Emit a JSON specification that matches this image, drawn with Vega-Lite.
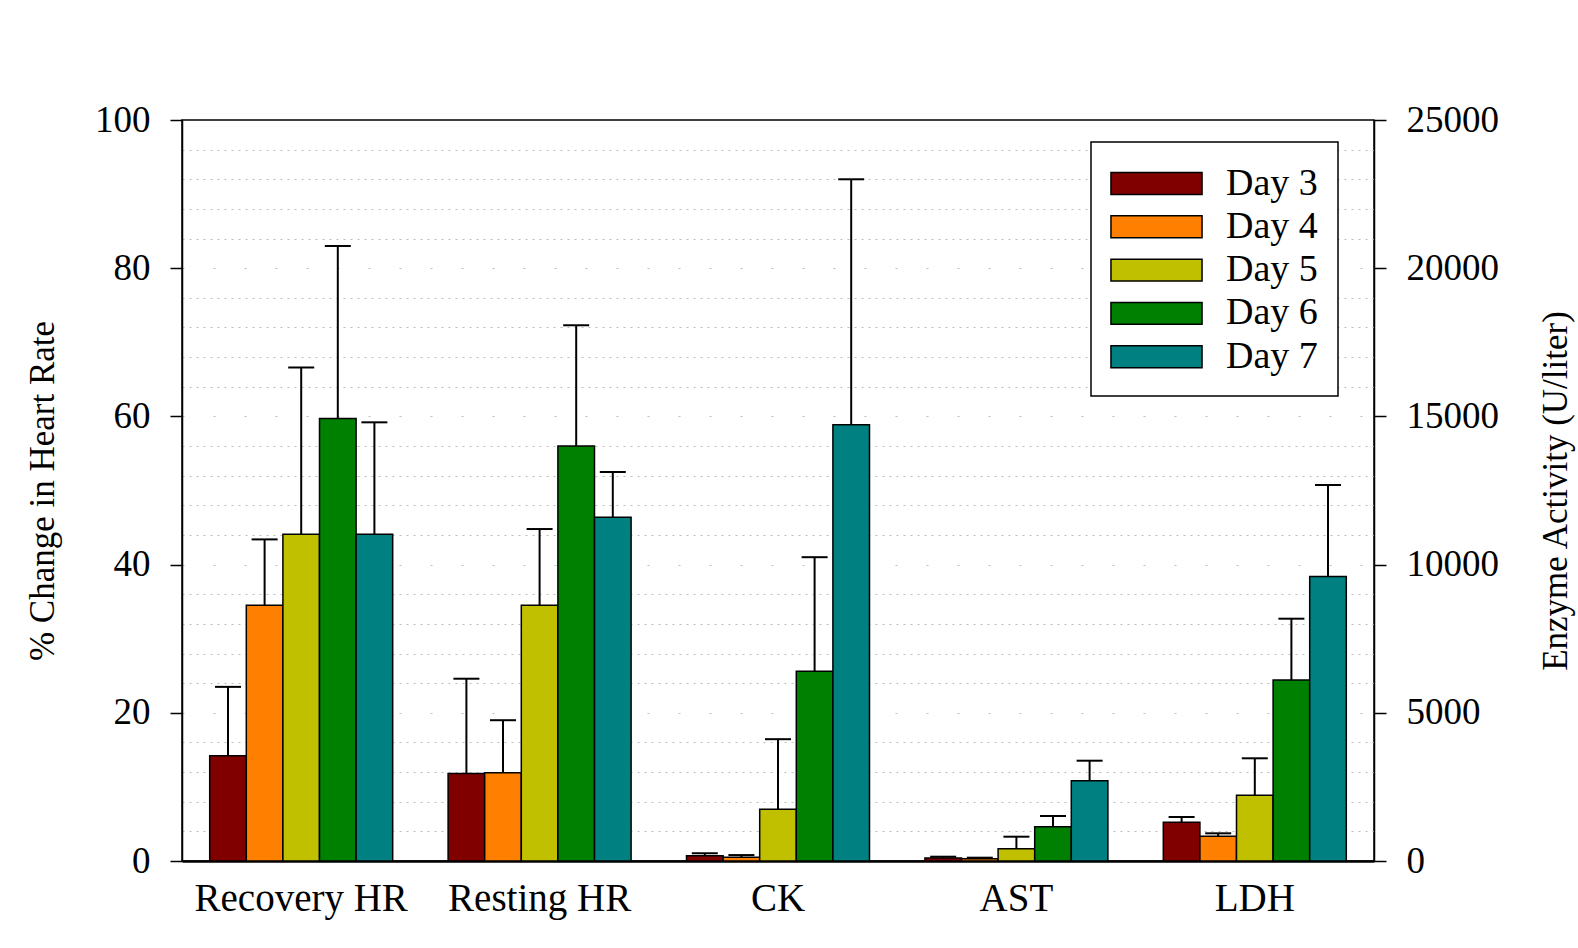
{
  "$schema": "https://vega.github.io/schema/vega-lite/v6.json",
  "width": 1192,
  "height": 741,
  "autosize": {"type": "none"},
  "padding": {"left": 182, "top": 120, "right": 204, "bottom": 87},
  "background": "white",
  "data": {
    "values": [
      {"measure": "Recovery HR", "day": "Day 3", "value": 14.2, "upper": 23.5, "kind": "hr"},
      {"measure": "Recovery HR", "day": "Day 4", "value": 34.5, "upper": 43.4, "kind": "hr"},
      {"measure": "Recovery HR", "day": "Day 5", "value": 44.1, "upper": 66.6, "kind": "hr"},
      {"measure": "Recovery HR", "day": "Day 6", "value": 59.7, "upper": 83.0, "kind": "hr"},
      {"measure": "Recovery HR", "day": "Day 7", "value": 44.1, "upper": 59.2, "kind": "hr"},
      {"measure": "Resting HR", "day": "Day 3", "value": 11.8, "upper": 24.6, "kind": "hr"},
      {"measure": "Resting HR", "day": "Day 4", "value": 11.9, "upper": 19.0, "kind": "hr"},
      {"measure": "Resting HR", "day": "Day 5", "value": 34.5, "upper": 44.8, "kind": "hr"},
      {"measure": "Resting HR", "day": "Day 6", "value": 56.0, "upper": 72.3, "kind": "hr"},
      {"measure": "Resting HR", "day": "Day 7", "value": 46.4, "upper": 52.5, "kind": "hr"},
      {"measure": "CK", "day": "Day 3", "value": 180, "upper": 260, "kind": "enz"},
      {"measure": "CK", "day": "Day 4", "value": 125, "upper": 200, "kind": "enz"},
      {"measure": "CK", "day": "Day 5", "value": 1750, "upper": 4110, "kind": "enz"},
      {"measure": "CK", "day": "Day 6", "value": 6400, "upper": 10250, "kind": "enz"},
      {"measure": "CK", "day": "Day 7", "value": 14720, "upper": 23000, "kind": "enz"},
      {"measure": "AST", "day": "Day 3", "value": 100, "upper": 145, "kind": "enz"},
      {"measure": "AST", "day": "Day 4", "value": 78, "upper": 112, "kind": "enz"},
      {"measure": "AST", "day": "Day 5", "value": 415, "upper": 820, "kind": "enz"},
      {"measure": "AST", "day": "Day 6", "value": 1157, "upper": 1518, "kind": "enz"},
      {"measure": "AST", "day": "Day 7", "value": 2709, "upper": 3384, "kind": "enz"},
      {"measure": "LDH", "day": "Day 3", "value": 1305, "upper": 1485, "kind": "enz"},
      {"measure": "LDH", "day": "Day 4", "value": 833, "upper": 934, "kind": "enz"},
      {"measure": "LDH", "day": "Day 5", "value": 2216, "upper": 3465, "kind": "enz"},
      {"measure": "LDH", "day": "Day 6", "value": 6106, "upper": 8175, "kind": "enz"},
      {"measure": "LDH", "day": "Day 7", "value": 9599, "upper": 12686, "kind": "enz"}
    ]
  },
  "encoding": {
    "x": {
      "field": "measure",
      "type": "nominal",
      "sort": ["Recovery HR", "Resting HR", "CK", "AST", "LDH"],
      "scale": {"paddingInner": 0, "paddingOuter": 0},
      "axis": {
        "title": null,
        "ticks": false,
        "labelAngle": 0,
        "labelPadding": 18,
        "labelLimit": 0,
        "labelFontSize": 39,
        "domainWidth": 2.5,
        "domainColor": "black"
      }
    },
    "xOffset": {
      "field": "day",
      "type": "nominal",
      "sort": ["Day 3", "Day 4", "Day 5", "Day 6", "Day 7"],
      "scale": {"paddingInner": 0, "paddingOuter": 0.757}
    }
  },
  "layer": [
    {
      "transform": [{"filter": "datum.kind === 'hr'"}],
      "encoding": {
        "y": {
          "field": "value",
          "type": "quantitative",
          "scale": {"domain": [0, 100], "nice": false},
          "axis": {
            "orient": "left",
            "title": "% Change in Heart Rate",
            "values": [0, 4, 8, 12, 16, 20, 24, 28, 32, 36, 40, 44, 48, 52, 56, 60, 64, 68, 72, 76, 80, 84, 88, 92, 96, 100],
            "labelExpr": "datum.value % 20 === 0 ? datum.label : ''",
            "labelOverlap": false,
            "tickOpacity": {"condition": {"test": "datum.value % 20 === 0", "value": 1}, "value": 0},
            "tickSize": 12,
            "tickWidth": 1.5,
            "tickColor": "black",
            "labelPadding": 20,
            "grid": true,
            "gridColor": "#bdbdbd",
            "gridWidth": 1,
            "gridDash": {"condition": {"test": "datum.value % 20 === 0", "value": [2, 29]}, "value": [2, 5]},
            "gridOpacity": {"condition": {"test": "datum.value === 0 || datum.value === 100", "value": 0}, "value": 1},
            "domainColor": "black",
            "domainWidth": 1.5,
            "titlePadding": 34,
            "labelFontSize": 37,
            "titleFontSize": 35
          }
        }
      },
      "layer": [
        {
          "mark": {"type": "bar", "stroke": "black", "strokeWidth": 1.5},
          "encoding": {
            "color": {
              "field": "day",
              "type": "nominal",
              "scale": {
                "domain": ["Day 3", "Day 4", "Day 5", "Day 6", "Day 7"],
                "range": ["#800000", "#ff8000", "#c0c000", "#008000", "#008080"]
              },
              "legend": {
                "title": null,
                "orient": "none",
                "legendX": 909,
                "legendY": 22,
                "symbolType": "M-2.2,-0.53H2.2V0.53H-2.2Z",
                "symbolSize": 1714,
                "symbolOffset": 24,
                "labelOffset": 48,
                "labelFontSize": 38,
                "labelExpr": "datum.label + '\u2002'",
                "symbolStrokeColor": "black",
                "symbolStrokeWidth": 1.5,
                "symbolOpacity": 1,
                "padding": 20,
                "rowPadding": 2.3,
                "strokeColor": "black",
                "fillColor": "white"
              }
            }
          }
        },
        {
          "mark": {"type": "rule", "color": "black", "strokeWidth": 2},
          "encoding": {"y2": {"field": "upper"}}
        },
        {
          "mark": {"type": "tick", "orient": "horizontal", "size": 26, "thickness": 2, "color": "black", "opacity": 1},
          "encoding": {
            "y": {"field": "upper", "type": "quantitative", "scale": {"domain": [0, 100], "nice": false}}
          }
        }
      ]
    },
    {
      "transform": [{"filter": "datum.kind === 'enz'"}],
      "encoding": {
        "y": {
          "field": "value",
          "type": "quantitative",
          "scale": {"domain": [0, 25000], "nice": false},
          "axis": {
            "orient": "right",
            "title": "Enzyme Activity (U/liter)",
            "values": [0, 5000, 10000, 15000, 20000, 25000],
            "format": "d",
            "grid": false,
            "tickSize": 12,
            "tickWidth": 1.5,
            "tickColor": "black",
            "labelPadding": 20,
            "domainColor": "black",
            "domainWidth": 1.5,
            "titleAngle": -90,
            "titleBaseline": "top",
            "titlePadding": 40,
            "labelFontSize": 37,
            "titleFontSize": 35
          }
        }
      },
      "layer": [
        {
          "mark": {"type": "bar", "stroke": "black", "strokeWidth": 1.5},
          "encoding": {
            "color": {
              "field": "day",
              "type": "nominal",
              "scale": {
                "domain": ["Day 3", "Day 4", "Day 5", "Day 6", "Day 7"],
                "range": ["#800000", "#ff8000", "#c0c000", "#008000", "#008080"]
              },
              "legend": {
                "title": null,
                "orient": "none",
                "legendX": 909,
                "legendY": 22,
                "symbolType": "M-2.2,-0.53H2.2V0.53H-2.2Z",
                "symbolSize": 1714,
                "symbolOffset": 24,
                "labelOffset": 48,
                "labelFontSize": 38,
                "labelExpr": "datum.label + '\u2002'",
                "symbolStrokeColor": "black",
                "symbolStrokeWidth": 1.5,
                "symbolOpacity": 1,
                "padding": 20,
                "rowPadding": 2.3,
                "strokeColor": "black",
                "fillColor": "white"
              }
            }
          }
        },
        {
          "mark": {"type": "rule", "color": "black", "strokeWidth": 2},
          "encoding": {"y2": {"field": "upper"}}
        },
        {
          "mark": {"type": "tick", "orient": "horizontal", "size": 26, "thickness": 2, "color": "black", "opacity": 1},
          "encoding": {
            "y": {"field": "upper", "type": "quantitative", "scale": {"domain": [0, 25000], "nice": false}}
          }
        }
      ]
    }
  ],
  "resolve": {"scale": {"y": "independent"}},
  "config": {
    "view": {"stroke": "black", "strokeWidth": 1.5},
    "font": "Liberation Serif",
    "axis": {
      "labelFont": "Liberation Serif",
      "titleFont": "Liberation Serif",
      "labelColor": "black",
      "titleColor": "black",
      "titleFontWeight": "normal"
    },
    "legend": {
      "labelFont": "Liberation Serif",
      "labelColor": "black",
      "strokeWidth": 1.5
    }
  }
}
